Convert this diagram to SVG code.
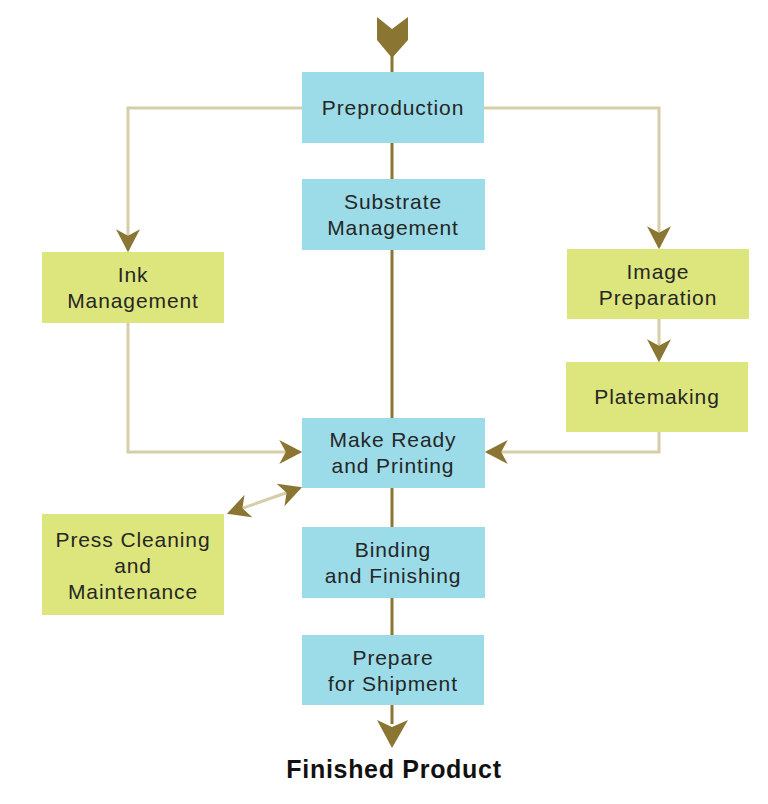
<svg xmlns="http://www.w3.org/2000/svg" width="768" height="804" viewBox="0 0 768 804">
<defs>
<style>
.blue{fill:#9cdce8}
.green{fill:#dde67c}
.t{font-family:"Liberation Sans",Arial,sans-serif;font-size:21px;fill:#262626;text-anchor:middle;letter-spacing:0.9px}
.light{fill:none;stroke:#d6cea8;stroke-width:3}
.dark{fill:none;stroke:#8a7632;stroke-width:3}
.head{fill:#8a7632}
</style>
<marker id="ah" markerUnits="userSpaceOnUse" markerWidth="24" markerHeight="24" refX="19" refY="11" orient="auto-start-reverse" viewBox="0 0 22 22">
<path d="M0,0 L21,11 L0,22 L6,11 Z" class="head"/>
</marker>
</defs>
<rect width="768" height="804" fill="#fff"/>
<g id="connectors">
<line x1="392" y1="40" x2="392" y2="724" class="dark"/>
<path d="M377,17 L392,29 L408,17 L408,40 L392,58 L377,40 Z" class="head"/>
<path d="M377,720 L392,727 L408,720 L392,748 Z" class="head"/>
<path d="M302,108 H128 V250" class="light" marker-end="url(#ah)"/>
<path d="M484,108 H659 V247" class="light" marker-end="url(#ah)"/>
<path d="M659,319 V360" class="light" marker-end="url(#ah)"/>
<path d="M128,323 V452 H300" class="light" marker-end="url(#ah)"/>
<path d="M659,432 V452 H487" class="light" marker-end="url(#ah)"/>
<path d="M229,513 L300,488" class="light" marker-start="url(#ah)" marker-end="url(#ah)"/>
</g>
<g id="preproduction">
<rect x="302" y="72" width="182" height="71" class="blue"/>
<text x="393" y="115" class="t">Preproduction</text>
</g>
<g id="substrate">
<rect x="302" y="179" width="183" height="71" class="blue"/>
<text x="393" y="209" class="t">Substrate</text>
<text x="393" y="235" class="t">Management</text>
</g>
<g id="ink">
<rect x="42" y="252" width="182" height="71" class="green"/>
<text x="133" y="282" class="t">Ink</text>
<text x="133" y="308" class="t">Management</text>
</g>
<g id="image-prep">
<rect x="567" y="249" width="182" height="70" class="green"/>
<text x="658" y="279" class="t">Image</text>
<text x="658" y="305" class="t">Preparation</text>
</g>
<g id="platemaking">
<rect x="566" y="362" width="182" height="70" class="green"/>
<text x="657" y="404" class="t">Platemaking</text>
</g>
<g id="make-ready">
<rect x="302" y="418" width="183" height="70" class="blue"/>
<text x="393" y="447" class="t">Make Ready</text>
<text x="393" y="473" class="t">and Printing</text>
</g>
<g id="press-cleaning">
<rect x="42" y="514" width="182" height="101" class="green"/>
<text x="133" y="547" class="t">Press Cleaning</text>
<text x="133" y="573" class="t">and</text>
<text x="133" y="599" class="t">Maintenance</text>
</g>
<g id="binding">
<rect x="302" y="527" width="183" height="71" class="blue"/>
<text x="393" y="557" class="t">Binding</text>
<text x="393" y="583" class="t">and Finishing</text>
</g>
<g id="prepare-shipment">
<rect x="302" y="635" width="182" height="70" class="blue"/>
<text x="393" y="665" class="t">Prepare</text>
<text x="393" y="691" class="t">for Shipment</text>
</g>
<g id="finished-product">
<text x="394" y="778" style="font-family:'Liberation Sans',Arial,sans-serif;font-size:25px;font-weight:bold;fill:#111;text-anchor:middle;letter-spacing:0.7px">Finished Product</text>
</g>
</svg>
